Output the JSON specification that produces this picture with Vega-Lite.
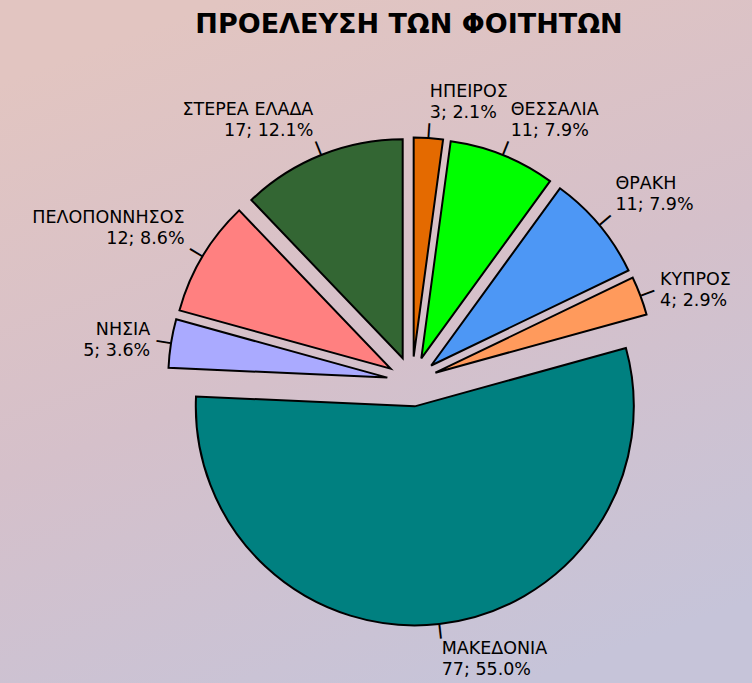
{
  "$schema": "https://vega.github.io/schema/vega-lite/v6.json",
  "width": 752,
  "height": 683,
  "autosize": {"type": "none"},
  "padding": 0,
  "background": "#E2C8C0",
  "title": {
    "text": "ΠΡΟΕΛΕΥΣΗ ΤΩΝ ΦΟΙΤΗΤΩΝ",
    "font": "DejaVu Sans",
    "fontSize": 27,
    "fontWeight": "bold",
    "color": "black",
    "anchor": "middle",
    "dx": 33,
    "offset": -39
  },
  "data": {
    "values": [
      {"region": "ΗΠΕΙΡΟΣ", "n": 3, "label": "ΗΠΕΙΡΟΣ\n3; 2.1%"},
      {"region": "ΘΕΣΣΑΛΙΑ", "n": 11, "label": "ΘΕΣΣΑΛΙΑ\n11; 7.9%"},
      {"region": "ΘΡΑΚΗ", "n": 11, "label": "ΘΡΑΚΗ\n11; 7.9%"},
      {"region": "ΚΥΠΡΟΣ", "n": 4, "label": "ΚΥΠΡΟΣ\n4; 2.9%"},
      {"region": "ΜΑΚΕΔΟΝΙΑ", "n": 77, "label": "ΜΑΚΕΔΟΝΙΑ\n77; 55.0%"},
      {"region": "ΝΗΣΙΑ", "n": 5, "label": "ΝΗΣΙΑ\n5; 3.6%"},
      {"region": "ΠΕΛΟΠΟΝΝΗΣΟΣ", "n": 12, "label": "ΠΕΛΟΠΟΝΝΗΣΟΣ\n12; 8.6%"},
      {"region": "ΣΤΕΡΕΑ ΕΛΑΔΑ", "n": 17, "label": "ΣΤΕΡΕΑ ΕΛΑΔΑ\n17; 12.1%"}
    ]
  },
  "layer": [
    {
      "data": {"values": [{}]},
      "mark": {
        "type": "rect",
        "color": {
          "gradient": "linear",
          "x1": 0.3, "y1": 0, "x2": 0.7, "y2": 1,
          "stops": [
            {"offset": 0, "color": "#E2C5C1"},
            {"offset": 0.5, "color": "#D5C0CA"},
            {"offset": 1, "color": "#C6C4D9"}
          ]
        }
      }
    },
    {
      "mark": {
        "type": "arc",
        "outerRadius": 219,
        "stroke": "black",
        "strokeWidth": 2,
        "strokeJoin": "miter",
        "xOffset": {"expr": "36 + 25 * sin(scale('theta', (datum.n_start + datum.n_end) / 2))"},
        "yOffset": {"expr": "40 - 25 * cos(scale('theta', (datum.n_start + datum.n_end) / 2))"}
      },
      "encoding": {
        "theta": {"field": "n", "type": "quantitative", "stack": true},
        "color": {
          "field": "region",
          "type": "nominal",
          "legend": null,
          "scale": {
            "domain": ["ΗΠΕΙΡΟΣ", "ΘΕΣΣΑΛΙΑ", "ΘΡΑΚΗ", "ΚΥΠΡΟΣ", "ΜΑΚΕΔΟΝΙΑ", "ΝΗΣΙΑ", "ΠΕΛΟΠΟΝΝΗΣΟΣ", "ΣΤΕΡΕΑ ΕΛΑΔΑ"],
            "range": ["#E46A00", "#00FF00", "#4D97F5", "#FF9A5C", "#008080", "#AAAAFF", "#FF8080", "#336633"]
          }
        }
      }
    },
    {
      "mark": {
        "type": "text",
        "text": "┃",
        "radius": 251.5,
        "xOffset": 36,
        "yOffset": 40,
        "font": "DejaVu Sans",
        "fontSize": 12,
        "color": "black",
        "align": "center",
        "baseline": "middle",
        "angle": {"expr": "scale('theta', (datum.n_start + datum.n_end) / 2) * 180 / PI"}
      },
      "encoding": {
        "theta": {"field": "n", "type": "quantitative", "stack": true},
        "detail": {"field": "region", "type": "nominal"}
      }
    },
    {
      "mark": {
        "type": "text",
        "radius": 260,
        "xOffset": 36,
        "yOffset": 40,
        "font": "DejaVu Sans",
        "fontSize": 17.5,
        "lineHeight": 21,
        "lineBreak": "\n",
        "color": "black",
        "baseline": "middle",
        "align": {"expr": "scale('theta', (datum.n_start + datum.n_end) / 2) < PI ? 'left' : 'right'"},
        "dx": {"expr": "5 * sin(scale('theta', (datum.n_start + datum.n_end) / 2))"},
        "dy": {"expr": "-10.5 - 20 * (cos(scale('theta', (datum.n_start + datum.n_end) / 2)) > 0.45 ? 1 : cos(scale('theta', (datum.n_start + datum.n_end) / 2)) < -0.45 ? -1 : 0)"}
      },
      "encoding": {
        "theta": {"field": "n", "type": "quantitative", "stack": true},
        "detail": {"field": "region", "type": "nominal"},
        "text": {"field": "label", "type": "nominal"}
      }
    }
  ]
}
